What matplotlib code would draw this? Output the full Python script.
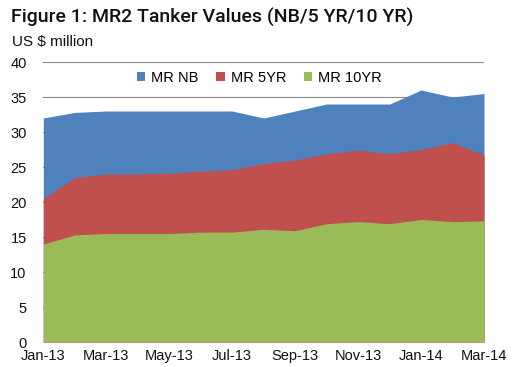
import matplotlib
matplotlib.use("Agg")
import matplotlib.pyplot as plt
import numpy as np

months = ["Jan-13", "Feb-13", "Mar-13", "Apr-13", "May-13", "Jun-13", "Jul-13", "Aug-13",
          "Sep-13", "Oct-13", "Nov-13", "Dec-13", "Jan-14", "Feb-14", "Mar-14"]
mr_nb = [32.0, 32.8, 33.0, 33.0, 33.0, 33.0, 33.0, 32.0, 33.0, 34.0, 34.0, 34.0, 36.0, 35.0, 35.5]
mr_5yr = [20.5, 23.5, 24.0, 24.0, 24.1, 24.4, 24.6, 25.5, 26.0, 26.9, 27.4, 26.9, 27.5, 28.5, 26.7]
mr_10yr = [14.0, 15.3, 15.5, 15.5, 15.5, 15.7, 15.7, 16.1, 15.9, 16.9, 17.2, 16.9, 17.5, 17.2, 17.3]

colors = {"MR NB": "#4F81BD", "MR 5YR": "#C0504D", "MR 10YR": "#9BBB59"}
font = "Liberation Sans"

fig = plt.figure(figsize=(5.18, 3.67), dpi=100)
ax = fig.add_axes([0.0836, 0.0681, 0.8508, 0.7629])

x = np.arange(len(months))
# overlapping (not stacked) areas, biggest first
for name, vals in [("MR NB", mr_nb), ("MR 5YR", mr_5yr), ("MR 10YR", mr_10yr)]:
    ax.fill_between(x, 0, vals, color=colors[name], lw=0, label=name, zorder=2)

ax.set_xlim(0, len(months) - 1)
ax.set_ylim(0, 40)
ax.set_yticks(range(0, 41, 5))
ax.set_xticks(x[::2])
ax.set_xticklabels(months[::2])
ax.yaxis.grid(True, color="#888888", lw=0.8, zorder=1)
ax.set_axisbelow(True)
for s in ax.spines.values():
    s.set_visible(False)
ax.tick_params(length=0, labelsize=10.5, colors="#111111")
ax.tick_params(axis="y", pad=12)
ax.tick_params(axis="x", pad=5)
for lbl in ax.get_xticklabels() + ax.get_yticklabels():
    lbl.set_family(font)

leg = ax.legend(loc="center", bbox_to_anchor=(0.49, 0.943), ncol=3, frameon=False,
                prop={"family": font, "size": 10.5}, handlelength=0.6, handleheight=0.6,
                handletextpad=0.4, columnspacing=1.2)

fig.text(0.022, 0.952, "Figure 1: MR2 Tanker Values (NB/5 YR/10 YR)", fontsize=14,
         family="Roboto", weight="medium", va="center", ha="left", color="#111111")
fig.text(0.023, 0.885, "US $ million", fontsize=11, family=font, va="center", ha="left",
         color="#111111")

fig.savefig("out.png", dpi=100)
